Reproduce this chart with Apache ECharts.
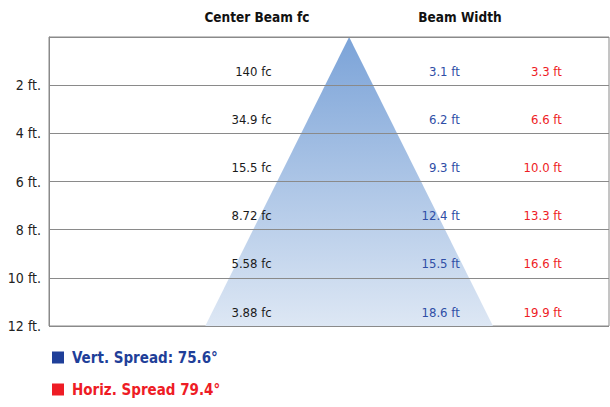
<!DOCTYPE html>
<html>
<head>
<meta charset="utf-8">
<script src="https://cdn.jsdelivr.net/npm/echarts@6/dist/echarts.min.js"></script>
<style>
  html, body { margin: 0; padding: 0; background: #fff; }
  #main { width: 610px; height: 407px; }
  #main svg text { font-stretch: condensed !important; }
</style>
</head>
<body>
<div id="main"></div>
<script>
// distance from fixture (ft)
var distances = [2, 4, 6, 8, 10, 12];
var centerFc = ["140", "34.9", "15.5", "8.72", "5.58", "3.88"];
var vertWidth = ["3.1", "6.2", "9.3", "12.4", "15.5", "18.6"];
var horizWidth = ["3.3", "6.6", "10.0", "13.3", "16.6", "19.9"];
var vertSpread = "75.6";
var horizSpread = "79.4";

var FONT = "'DejaVu Sans Condensed', 'DejaVu Sans', sans-serif";
var BLUE = "#1f3f99";
var BLUE_TEXT = "#2f4ea6";
var RED = "#ee1c25";

var chart = echarts.init(document.getElementById("main"), null, { renderer: "svg" });

// beam cone drawn from the vertical beam width at the last distance
var lastD = distances[distances.length - 1];
var halfW = parseFloat(vertWidth[vertWidth.length - 1]) / 2;
var cone = [[-halfW, lastD], [0, 0], [halfW, lastD]];

// text columns, in x-axis units
var colFc = -5.0, colV = 7.15, colH = 13.75;

function labelSeries(name, col, vals, unit, color) {
  return {
    name: name,
    type: "scatter",
    symbolSize: 0,
    z: 5,
    silent: true,
    itemStyle: { color: color, opacity: 1 },
    data: distances.map(function (d, i) { return [col, d, vals[i]]; }),
    label: {
      show: true,
      position: "inside",
      align: "right",
      offset: [0, -14],
      fontFamily: FONT,
      fontSize: 13,
      color: color,
      textBorderWidth: 0,
      formatter: function (p) { return p.data[2] + unit; }
    }
  };
}

function legendFor(name, color, top) {
  return {
    left: 52, top: top, padding: 0,
    icon: "rect",
    itemWidth: 12, itemHeight: 12, itemGap: 8,
    selectedMode: false,
    textStyle: { fontFamily: FONT, fontSize: 15, fontWeight: "bold", color: color, padding: [0, 0, 0, 3] },
    data: [{ name: name, itemStyle: { color: color } }]
  };
}

var vName = "Vert. Spread: " + vertSpread + "°";
var hName = "Horiz. Spread " + horizSpread + "°";

var option = {
  animation: false,
  grid: {
    left: 49, right: 1, top: 37, bottom: 81,
    show: true, borderColor: "#8a8a8a", borderWidth: 1
  },
  xAxis: {
    type: "value", min: -19.4, max: 16.8,
    show: false
  },
  yAxis: {
    type: "value", min: 0, max: 12, interval: 2, inverse: true, z: 3,
    axisLine: { show: true, onZero: false, lineStyle: { color: "#8a8a8a" } },
    axisTick: { show: false },
    splitLine: { lineStyle: { color: "#8a8a8a", width: 1 } },
    axisLabel: {
      margin: 8,
      fontFamily: FONT, fontSize: 14, color: "#222",
      formatter: function (v) { return v === 0 ? "" : v + " ft."; }
    }
  },
  legend: [legendFor(vName, BLUE, 350), legendFor(hName, RED, 382)],
  graphic: [
    { type: "text", x: 257, y: 10, style: { text: "Center Beam fc", align: "center", fontFamily: FONT, fontSize: 13.5, fontWeight: "bold", fill: "#111" } },
    { type: "text", x: 460, y: 10, style: { text: "Beam Width", align: "center", fontFamily: FONT, fontSize: 13.5, fontWeight: "bold", fill: "#111" } }
  ],
  series: [
    {
      name: "cone",
      type: "line",
      z: 1,
      silent: true,
      symbol: "none",
      lineStyle: { width: 0 },
      areaStyle: {
        origin: "end",
        opacity: 1,
        color: new echarts.graphic.LinearGradient(0, 0, 0, 1, [
          { offset: 0, color: "#7ba3d8" },
          { offset: 1, color: "#dde7f4" }
        ])
      },
      data: cone
    },
    labelSeries("fc", colFc, centerFc, " fc", "#1a1a1a"),
    labelSeries(vName, colV, vertWidth, " ft", BLUE_TEXT),
    labelSeries(hName, colH, horizWidth, " ft", RED)
  ]
};

chart.setOption(option);
</script>
</body>
</html>
